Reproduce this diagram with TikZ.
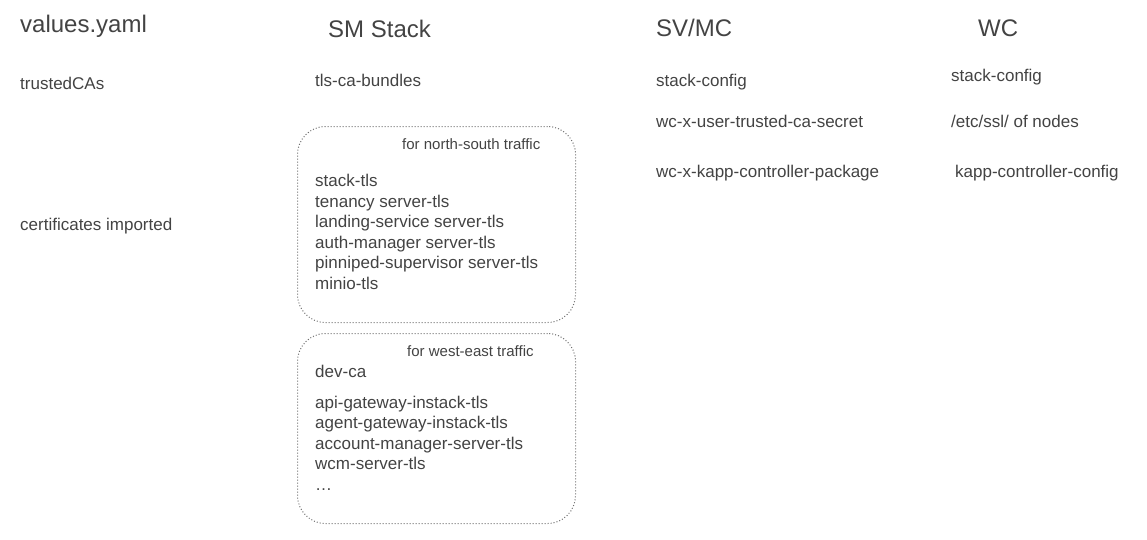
\documentclass[tikz,border=0pt]{standalone}
\usepackage{fontspec}
\setmainfont{Liberation Sans}
\usepackage{tikz}
\definecolor{notegray}{RGB}{67,67,67}
\definecolor{dotgray}{RGB}{110,110,110}

\begin{document}
\begin{tikzpicture}[x=1pt,y=-1pt,
		heading/.style={anchor=base west, inner sep=0pt, text=notegray, font=\fontsize{24}{28}\selectfont},
		entry/.style={anchor=base west, inner sep=0pt, text=notegray, align=left, font=\fontsize{17}{20.5}\selectfont},
		hint/.style={anchor=base west, inner sep=0pt, text=notegray, font=\fontsize{15}{18}\selectfont},
		trafficbox/.style={draw=dotgray, line width=1pt, dash pattern=on 1pt off 2pt, rounded corners=28pt, anchor=north west, minimum width=278pt, inner sep=0pt}
	]
	\useasboundingbox (0,0) rectangle (1147,539);

	% column headings
	\node[heading] (values) at (20,32) {values.yaml};
	\node[heading] (smstack) at (328,37) {SM Stack};
	\node[heading] (svmc) at (656,36) {SV/MC};
	\node[heading] (wc) at (978,36) {WC};

	% values.yaml
	\node[entry] (trustedcas) at (20,89) {trustedCAs};
	\node[entry] (certsimported) at (20,230) {certificates imported};

	% SM Stack (multi-line entries sit on their last baseline)
	\node[entry] (cabundles) at (315,86) {tls-ca-bundles};
	\node[trafficbox, minimum height=196pt] (nsbox) at (297,126) {};
	\node[hint] (nslabel) at (402,149) {for north-south traffic};
	\node[entry] (nscerts) at (315,289) {stack-tls\\
		tenancy server-tls\\
		landing-service server-tls\\
		auth-manager server-tls\\
		pinniped-supervisor server-tls\\
		minio-tls};
	\node[trafficbox, minimum height=190pt] (webox) at (297,333) {};
	\node[hint] (welabel) at (407,356) {for west-east traffic};
	\node[entry] (devca) at (315,377) {dev-ca};
	\node[entry] (wecerts) at (315,490) {api-gateway-instack-tls\\
		agent-gateway-instack-tls\\
		account-manager-server-tls\\
		wcm-server-tls\\
		…};

	% SV/MC
	\node[entry] (svconfig) at (656,86) {stack-config};
	\node[entry] (usersecret) at (656,127) {wc-x-user-trusted-ca-secret};
	\node[entry] (kapppackage) at (656,177) {wc-x-kapp-controller-package};

	% WC
	\node[entry] (wcconfig) at (951,81) {stack-config};
	\node[entry] (etcssl) at (951,127) {/etc/ssl/ of nodes};
	\node[entry] (kappconfig) at (955,177) {kapp-controller-config};
\end{tikzpicture}
\end{document}
